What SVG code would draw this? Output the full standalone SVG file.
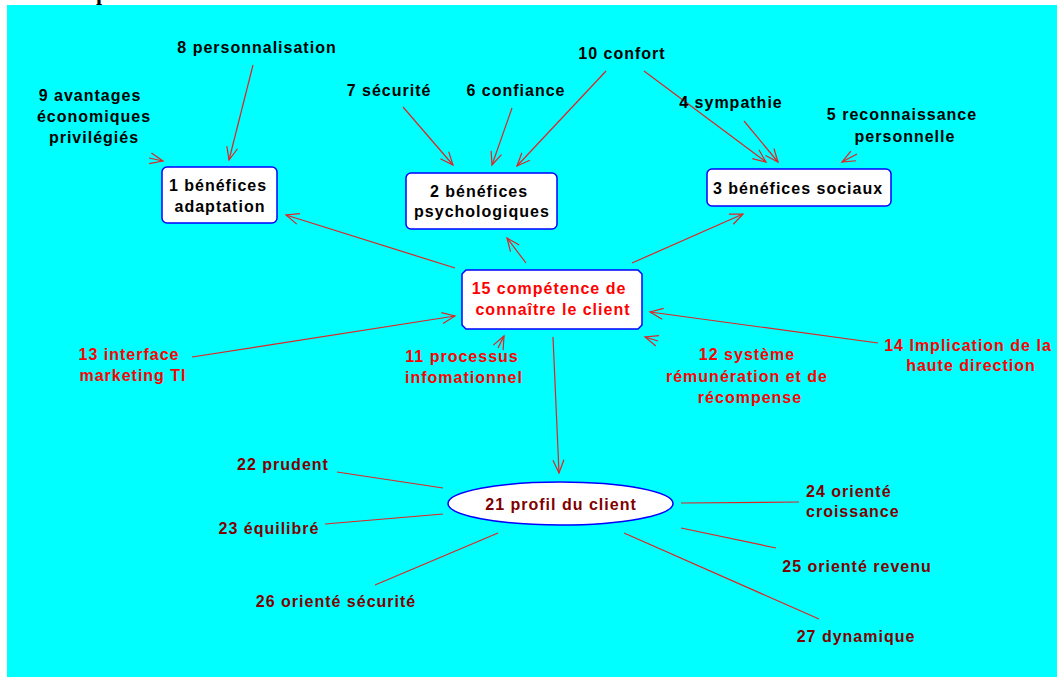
<svg xmlns="http://www.w3.org/2000/svg" width="1057" height="677" viewBox="0 0 1057 677">
<style>
text{font-family:"Liberation Sans",Arial,sans-serif;font-weight:bold;font-size:16px;letter-spacing:1px;text-anchor:middle}
.k{fill:#000}
.r{fill:#ff0000}
.d{fill:#800000}
.box{fill:#fff;stroke:#0000ff;stroke-width:1.5}
.c{stroke:#e02424;stroke-width:1.2;fill:none}
.a{marker-end:url(#ah)}
</style>
<defs>
<marker id="ah" markerUnits="userSpaceOnUse" markerWidth="16" markerHeight="14" refX="14" refY="7" orient="auto" viewBox="0 0 16 14">
<path d="M1,1.5 L14,7 L1,12.5" fill="none" stroke="#e02424" stroke-width="1.2"/>
</marker>
</defs>
<rect x="0" y="0" width="1057" height="677" fill="#fff"/>
<rect x="7" y="5" width="1050" height="672" fill="#00ffff"/>
<text x="96" y="0" style="font-family:'Liberation Serif',serif;font-size:22px;text-anchor:start;letter-spacing:0">p</text>

<g id="connectors">
<line class="c a" x1="253" y1="65" x2="229" y2="160"/>
<line class="c a" x1="149" y1="158" x2="163" y2="161"/>
<line class="c a" x1="403" y1="107" x2="453" y2="165"/>
<line class="c a" x1="512" y1="108" x2="492" y2="165"/>
<line class="c a" x1="606" y1="71" x2="517" y2="166"/>
<line class="c a" x1="644" y1="71" x2="766" y2="162"/>
<line class="c a" x1="744" y1="121" x2="778" y2="162"/>
<line class="c a" x1="857" y1="154" x2="842" y2="162"/>
<line class="c a" x1="632" y1="263" x2="743" y2="214"/>
<line class="c a" x1="455" y1="268" x2="286" y2="215"/>
<line class="c a" x1="526" y1="263" x2="507" y2="238"/>
<line class="c a" x1="192" y1="357" x2="455" y2="316"/>
<line class="c a" x1="498" y1="348" x2="504" y2="336"/>
<line class="c a" x1="878" y1="343" x2="650" y2="312"/>
<line class="c a" x1="658" y1="341" x2="645" y2="337"/>
<line class="c a" x1="553" y1="337" x2="559" y2="473"/>
<line class="c" x1="337" y1="472" x2="443" y2="488"/>
<line class="c" x1="325" y1="524" x2="443" y2="514"/>
<line class="c" x1="375" y1="585" x2="498" y2="533"/>
<line class="c" x1="681" y1="503" x2="799" y2="502"/>
<line class="c" x1="681" y1="528" x2="776" y2="548"/>
<line class="c" x1="624" y1="533" x2="819" y2="619"/>
</g>

<g id="n1"><rect class="box" x="162" y="167" width="115" height="56" rx="5"/><text class="k" x="218" y="191">1 bénéfices</text><text class="k" x="220" y="212">adaptation</text></g>
<g id="n2"><rect class="box" x="406" y="173" width="151" height="56" rx="5"/><text class="k" x="479" y="197">2 bénéfices</text><text class="k" x="482" y="217">psychologiques</text></g>
<g id="n3"><rect class="box" x="707" y="169" width="184" height="37" rx="5"/><text class="k" x="798" y="194">3 bénéfices sociaux</text></g>
<g id="n4"><text class="k" x="731" y="108">4 sympathie</text></g>
<g id="n5"><text class="k" x="902" y="120">5 reconnaissance</text><text class="k" x="905" y="142">personnelle</text></g>
<g id="n6"><text class="k" x="516" y="96">6 confiance</text></g>
<g id="n7"><text class="k" x="389" y="96">7 sécurité</text></g>
<g id="n8"><text class="k" x="257" y="53">8 personnalisation</text></g>
<g id="n9"><text class="k" x="90" y="101">9 avantages</text><text class="k" x="94" y="122">économiques</text><text class="k" x="94" y="143">privilégiés</text></g>
<g id="n10"><text class="k" x="622" y="59">10 confort</text></g>
<g id="n11"><text class="r" x="462" y="362">11 processus</text><text class="r" x="464" y="383">infomationnel</text></g>
<g id="n12"><text class="r" x="747" y="360">12 système</text><text class="r" x="747" y="382">rémunération et de</text><text class="r" x="750" y="403">récompense</text></g>
<g id="n13"><text class="r" x="129" y="360">13 interface</text><text class="r" x="133" y="381">marketing TI</text></g>
<g id="n14"><text class="r" x="968" y="351">14 Implication de la</text><text class="r" x="971" y="371">haute direction</text></g>
<g id="n15"><path class="box" d="M466,270 H638 L642,274 V325 L638,329 H466 L462,325 V274 Z"/><text class="r" x="549" y="294">15 compétence de</text><text class="r" x="553" y="315">connaître le client</text></g>
<g id="n21"><ellipse class="box" cx="560.5" cy="503.5" rx="112.5" ry="21.5"/><text class="d" x="561" y="510">21 profil du client</text></g>
<g id="n22"><text class="d" x="283" y="470">22 prudent</text></g>
<g id="n23"><text class="d" x="269" y="534">23 équilibré</text></g>
<g id="n24"><text class="d" x="806" y="497" style="text-anchor:start">24 orienté</text><text class="d" x="806" y="517" style="text-anchor:start">croissance</text></g>
<g id="n25"><text class="d" x="857" y="572">25 orienté revenu</text></g>
<g id="n26"><text class="d" x="336" y="607">26 orienté sécurité</text></g>
<g id="n27"><text class="d" x="856" y="642">27 dynamique</text></g>
</svg>
